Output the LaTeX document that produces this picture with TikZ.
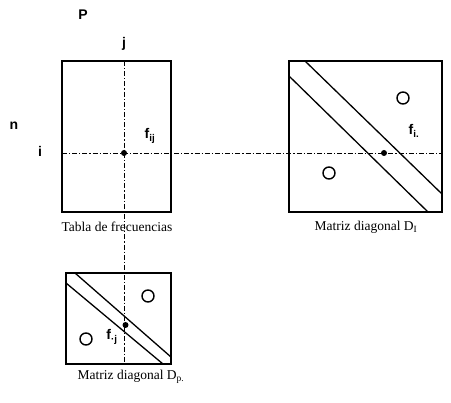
\documentclass[tikz,border=0pt]{standalone}
\usepackage{fontspec}
\setmainfont{Liberation Serif}
\newfontfamily\lblfont{Liberation Sans}
\usetikzlibrary{calc, positioning}

\tikzset{
    caja/.style={draw, line width=1.6pt, inner sep=0pt},
    banda/.style={line width=1.3pt},
    rayo/.style={line width=0.9pt,
        dash pattern=on 5pt off 2pt on 1.2pt off 2pt},
    punto/.style={circle, fill, inner sep=0pt, minimum size=6pt},
    hueco/.style={circle, draw, line width=1.4pt, inner sep=0pt, minimum size=12pt},
    etiq/.style={font=\lblfont\bfseries\fontsize{14}{14}\selectfont, inner sep=1pt},
    pie/.style={font=\fontsize{13.5}{14}\selectfont, inner sep=1pt}
}

\begin{document}
\begin{tikzpicture}[x=1pt, y=-1pt]

    % 0. Marco
    \useasboundingbox (0,0) rectangle (451,403);

    % 1. Las tres matrices
    \node[caja, minimum width=109pt, minimum height=151pt]
        (tabla) at (116.5,136.5) {};

    \node[caja, minimum width=153pt, minimum height=151pt]
        (dn) at (365.5,136.5) {};

    \node[caja, minimum width=105pt, minimum height=91pt]
        (dp) at (118.5,318.5) {};

    % 2. Bandas diagonales
    \draw[banda] (305,61) -- (442,194);
    \draw[banda] (289,76) -- (428,212);

    \draw[banda] (75,273) -- (171,357);
    \draw[banda] (66,283) -- (163,364);

    % 3. Rectas de trazo y punto
    \coordinate (hizq) at (62,153);
    \coordinate (hder) at (442,153);
    \coordinate (varr) at (124,61);
    \coordinate (vabj) at (124,364);

    \draw[rayo] (hizq) -- (hder);
    \draw[rayo] (varr) -- (vabj);

    % 4. Puntos
    \node[punto] (fij) at (124,153) {};
    \node[punto] (fi) at (384,153) {};
    \node[punto] (fj) at (125.5,325) {};

    \node[hueco] (c1) at (403,98) {};
    \node[hueco] (c2) at (329,173) {};
    \node[hueco] (c3) at (148,296) {};
    \node[hueco] (c4) at (86,339) {};

    % 5. Etiquetas
    \node[etiq] (lP) at (83,15) {P};
    \node[etiq] (lj) at (124,44) {j};
    \node[etiq] (ln) at (14,126) {n};
    \node[etiq] (li) at (40,151) {i};

    \node[etiq] (lfij) at (150,136) {f\textsubscript{ij}};
    \node[etiq] (lfi) at (414,131) {f\textsubscript{i.}};
    \node[etiq] (lfj) at (112,337) {f\textsubscript{\textperiodcentered j}};

    % 6. Pies de figura
    \node[pie] (ptabla) at (117,227) {Tabla de frecuencias};
    \node[pie] (pdn) at (366,227) {Matriz diagonal D\textsubscript{I}};
    \node[pie] (pdp) at (131,377) {Matriz diagonal D\textsubscript{p.}};

\end{tikzpicture}
\end{document}
